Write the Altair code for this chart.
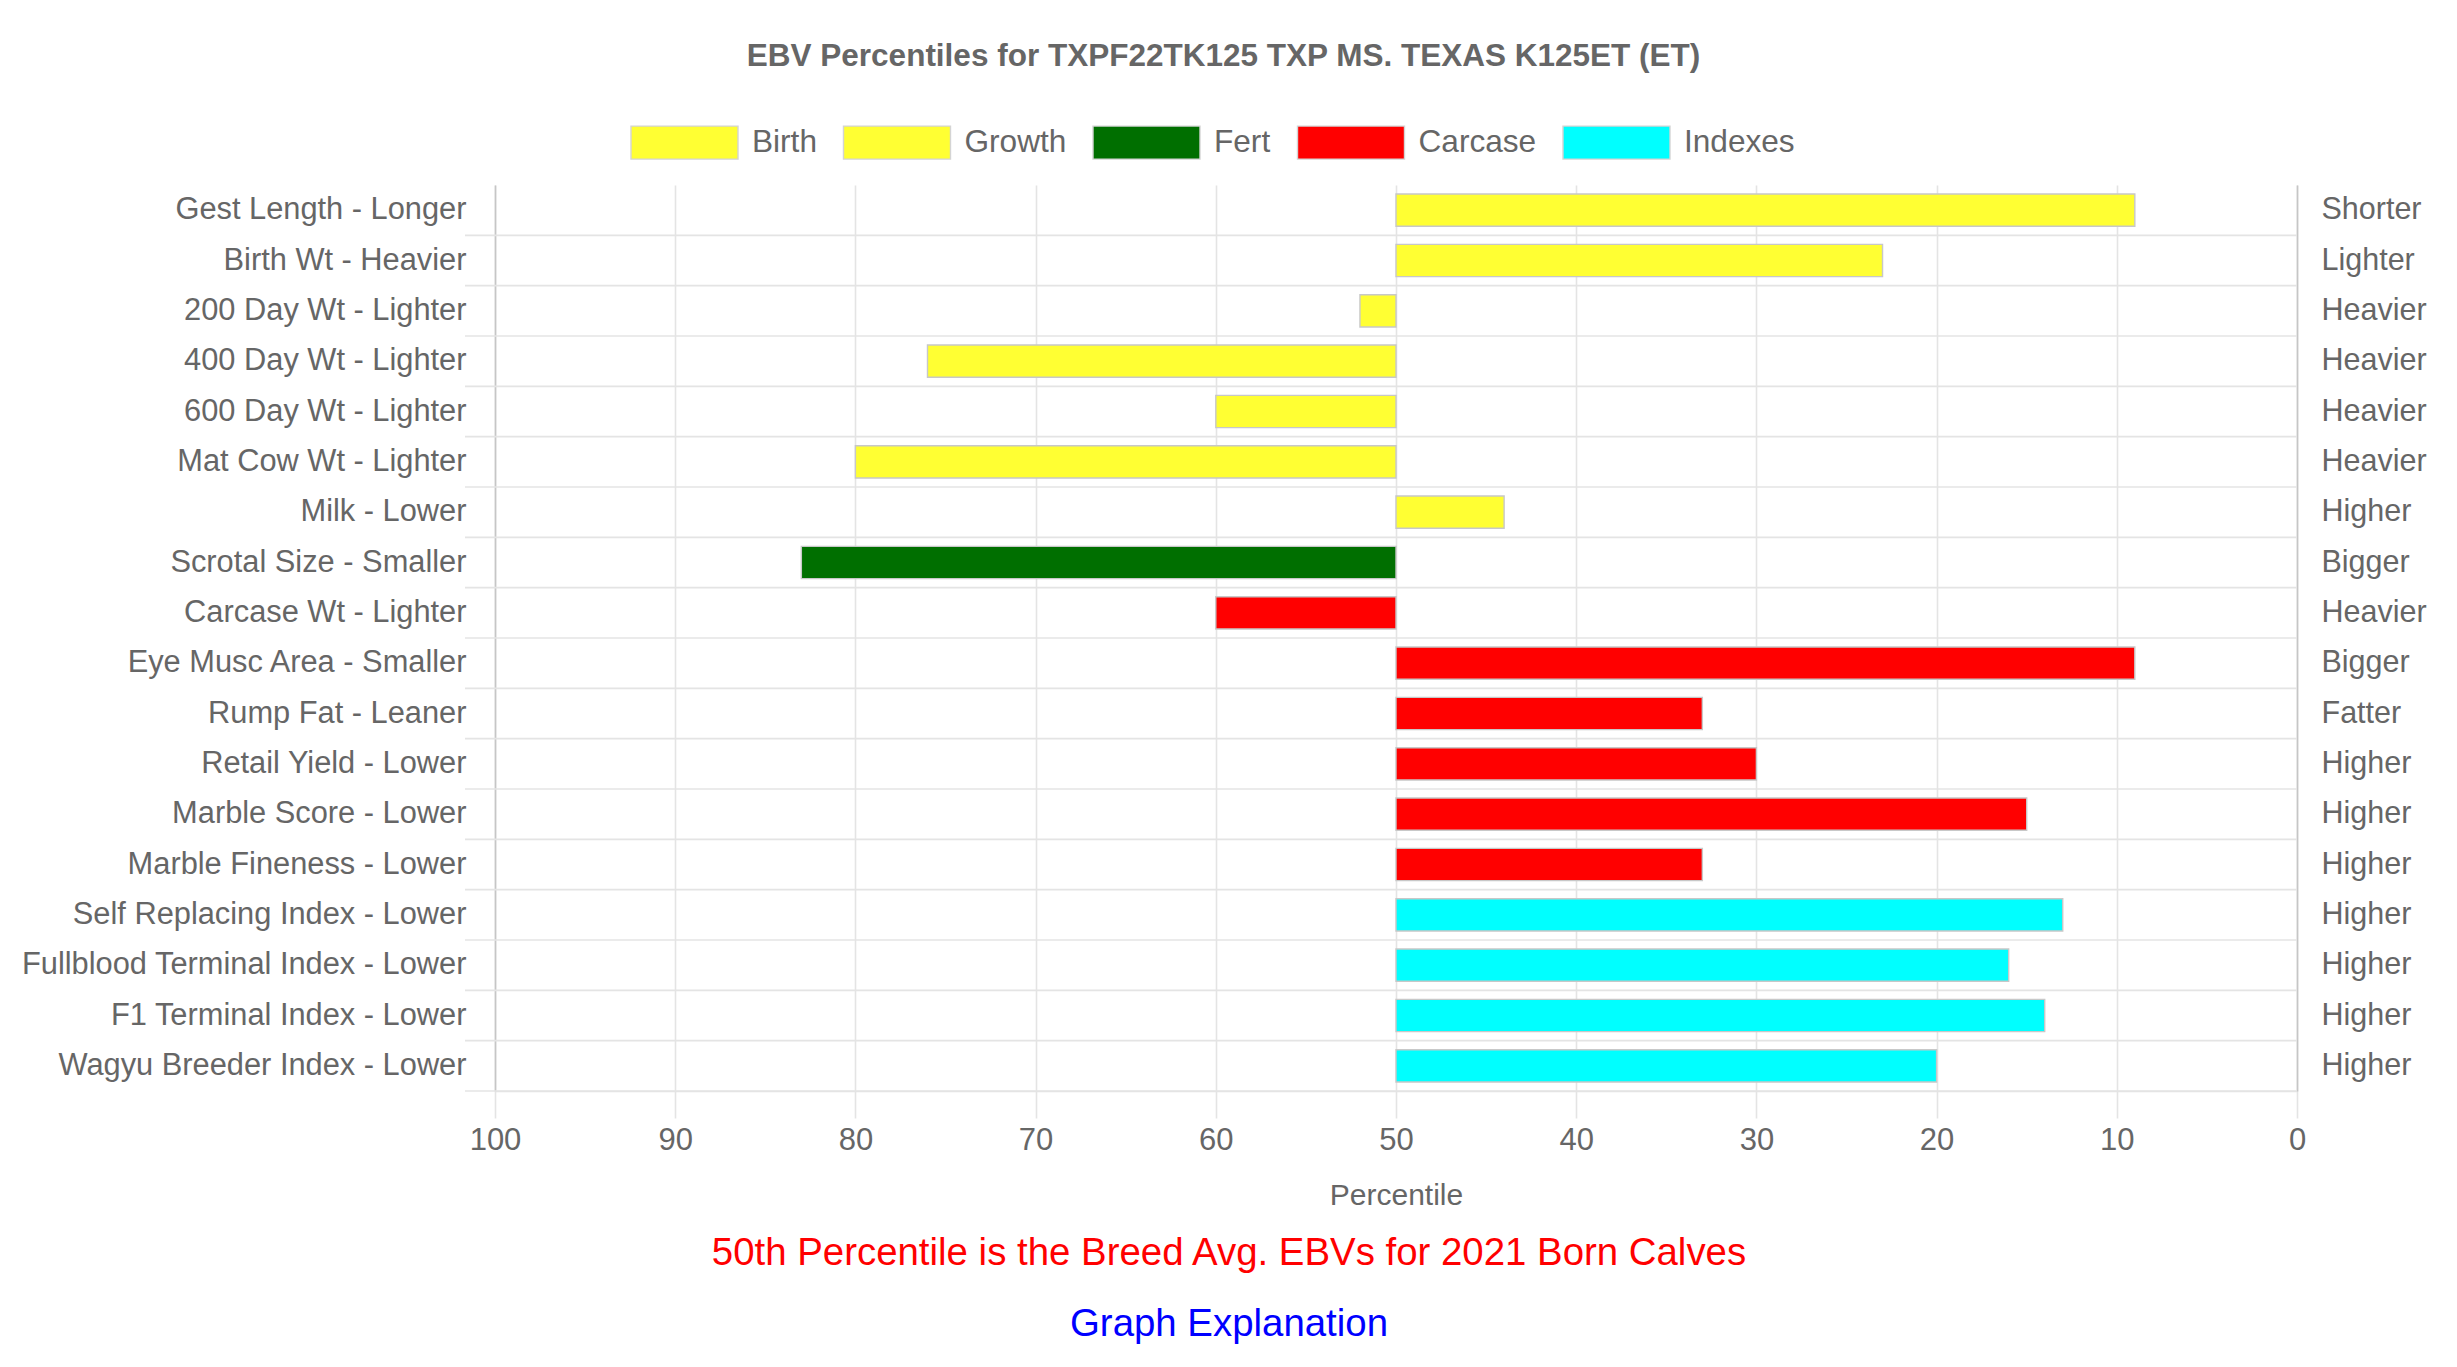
import json
import altair as alt
import pandas as pd

# ---------------- data ----------------
left_labels = [
    "Gest Length - Longer", "Birth Wt - Heavier", "200 Day Wt - Lighter",
    "400 Day Wt - Lighter", "600 Day Wt - Lighter", "Mat Cow Wt - Lighter",
    "Milk - Lower", "Scrotal Size - Smaller", "Carcase Wt - Lighter",
    "Eye Musc Area - Smaller", "Rump Fat - Leaner", "Retail Yield - Lower",
    "Marble Score - Lower", "Marble Fineness - Lower",
    "Self Replacing Index - Lower", "Fullblood Terminal Index - Lower",
    "F1 Terminal Index - Lower", "Wagyu Breeder Index - Lower",
]
right_labels = [
    "Shorter", "Lighter", "Heavier", "Heavier", "Heavier", "Heavier",
    "Higher", "Bigger", "Heavier", "Bigger", "Fatter", "Higher",
    "Higher", "Higher", "Higher", "Higher", "Higher", "Higher",
]
groups = [
    "Birth", "Birth", "Growth", "Growth", "Growth", "Growth", "Growth",
    "Fert", "Carcase", "Carcase", "Carcase", "Carcase", "Carcase", "Carcase",
    "Indexes", "Indexes", "Indexes", "Indexes",
]
percentiles = [9, 23, 52, 76, 60, 80, 44, 83, 60, 9, 33, 30, 15, 33, 13, 16, 14, 20]
breed_avg = 50

group_names = ["Birth", "Growth", "Fert", "Carcase", "Indexes"]
group_colors = ["#ffff33", "#ffff33", "#006f00", "#ff0000", "#00ffff"]

x_ticks = [0, 10, 20, 30, 40, 50, 60, 70, 80, 90, 100]

title_text = "EBV Percentiles for TXPF22TK125 TXP MS. TEXAS K125ET (ET)"
x_title = "Percentile"
notes = ["50th Percentile is the Breed Avg. EBVs for 2021 Born Calves", "Graph Explanation"]
note_colors = ["#ff0000", "#0000ff"]

# ---------------- chart ----------------
FONT = "Liberation Sans"
GREY = "#666666"
GRID = "#e4e4e4"
AXIS = "#c6c6c6"
W, H = 1802, 906

df = pd.DataFrame({
    "label": left_labels,
    "right": right_labels,
    "group": groups,
    "pct": percentiles,
    "avg": [breed_avg] * len(left_labels),
})

band = alt.Scale(paddingInner=0, paddingOuter=0)

hgrid = alt.Chart(df).mark_rule(color=GRID, strokeWidth=1.6).encode(
    y=alt.Y("label:N", sort=left_labels, scale=band, bandPosition=1, axis=None),
    x=alt.value(-30),
    x2=alt.value(W),
)

bars = alt.Chart(df).mark_bar(
    height=alt.RelativeBandSize(0.64), stroke="#c8c8c8", strokeWidth=1.4
).encode(
    y=alt.Y(
        "label:N", sort=left_labels, scale=band,
        axis=alt.Axis(
            orient="left", title=None, ticks=False, grid=False,
            domain=True, domainColor=AXIS, domainWidth=1.6,
            labelFont=FONT, labelFontSize=30.8, labelColor=GREY,
            labelPadding=29, labelLimit=800,
        ),
    ),
    x=alt.X(
        "avg:Q",
        scale=alt.Scale(domain=[0, 100], reverse=True, nice=False),
        axis=alt.Axis(
            values=x_ticks, title=x_title, grid=True, gridColor=GRID, gridWidth=1.6,
            tickColor=GRID, tickSize=27, tickWidth=1.6,
            domainColor=GRID, domainWidth=1.6, labelFlush=False,
            labelFont=FONT, labelFontSize=31, labelColor=GREY, labelPadding=7,
            titleFont=FONT, titleFontSize=30, titleFontWeight="normal",
            titleColor=GREY, titlePadding=25,
        ),
    ),
    x2="pct:Q",
    color=alt.Color(
        "group:N",
        scale=alt.Scale(domain=group_names, range=group_colors),
        legend=alt.Legend(
            orient="none", legendX=135, legendY=-97, direction="horizontal",
            title=None,
            symbolType="M-1,-0.3084L1,-0.3084L1,0.3084L-1,0.3084Z",
            symbolSize=107 * 107, symbolStrokeColor="#d4d4d4",
            symbolStrokeWidth=1.4, symbolOpacity=1,
            labelFont=FONT, labelFontSize=31.6, labelColor=GREY,
            labelOffset=13, columnPadding=23.5, labelLimit=300,
        ),
    ),
)

right_expr = f"{json.dumps(right_labels)}[indexof({json.dumps(left_labels)}, datum.value)]"

right_axis = alt.Chart(df).mark_point(opacity=0).encode(
    y=alt.Y(
        "label:N", sort=left_labels, scale=band,
        axis=alt.Axis(
            orient="right", title=None, ticks=False, grid=False,
            domain=True, domainColor=AXIS, domainWidth=1.6,
            labelExpr=right_expr, labelAlign="left",
            labelFont=FONT, labelFontSize=30.5, labelColor=GREY,
            labelPadding=24, labelLimit=400,
        ),
    ),
    x=alt.value(W),
)

note1 = alt.Chart(pd.DataFrame({"t": [notes[0]]})).mark_text(
    font=FONT, fontSize=38.4, color=note_colors[0], align="center", baseline="middle"
).encode(text="t:N", x=alt.value(734), y=alt.value(1068))

note2 = alt.Chart(pd.DataFrame({"t": [notes[1]]})).mark_text(
    font=FONT, fontSize=38.4, color=note_colors[1], align="center", baseline="middle"
).encode(text="t:N", x=alt.value(734), y=alt.value(1139))

chart = alt.layer(hgrid, bars, right_axis, note1, note2).resolve_axis(
    y="independent"
).properties(
    width=W,
    height=H,
    title=alt.Title(
        title_text, font=FONT, fontSize=31.5, fontWeight="bold", color=GREY,
        anchor="middle", frame="bounds", offset=16,
    ),
    autosize=alt.AutoSizeParams(type="none"),
    padding={"left": 487, "top": 177, "right": 150, "bottom": 270},
    background="white",
).configure_view(stroke=None)

chart.save("out.html", embed_options={"renderer": "svg", "actions": False})
